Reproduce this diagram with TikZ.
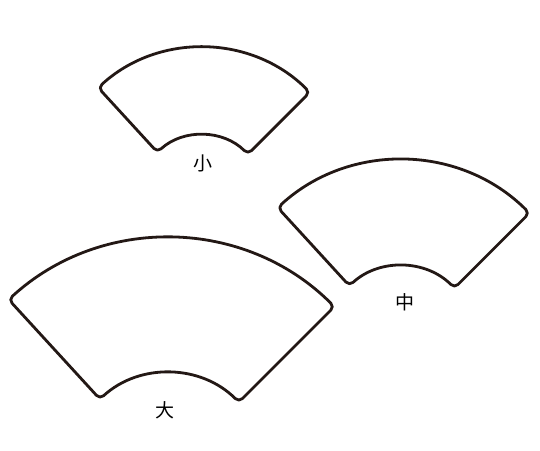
\documentclass[tikz,border=0pt]{standalone}
\usepackage{fontspec}
\newfontfamily\cjkfont{Noto Sans CJK JP}
\usetikzlibrary{positioning}
\definecolor{fanline}{RGB}{35,24,21}
\tikzset{fan/.style={line width=2.8pt, draw=fanline, rounded corners=5pt, line join=round},
  sizelabel/.style={font=\cjkfont\fontsize{19}{19}\selectfont, text=black}}

\begin{document}
\begin{tikzpicture}[x=1pt, y=1pt]
\useasboundingbox (0,0) rectangle (540,450);

% Fans: centre x / centre y / outer radius / inner radius
\foreach \cx/\cy/\R/\r/\name in {201.6/249.5/153/65.5/small, 400.7/108.2/182/76/medium, 167.8/-23.2/235.5/100.5/large} {
    \draw[fan, shift={(\cx,\cy)}] (132.5:\R) arc[start angle=132.5, end angle=45, radius=\R]
        -- (45:\r) arc[start angle=45, end angle=132.5, radius=\r] -- cycle;
}

% Labels
\node[sizelabel] (small) at (203,287) {小};
\node[sizelabel] (medium) at (405,148) {中};
\node[sizelabel] (large) at (165,40) {大};

\end{tikzpicture}
\end{document}
